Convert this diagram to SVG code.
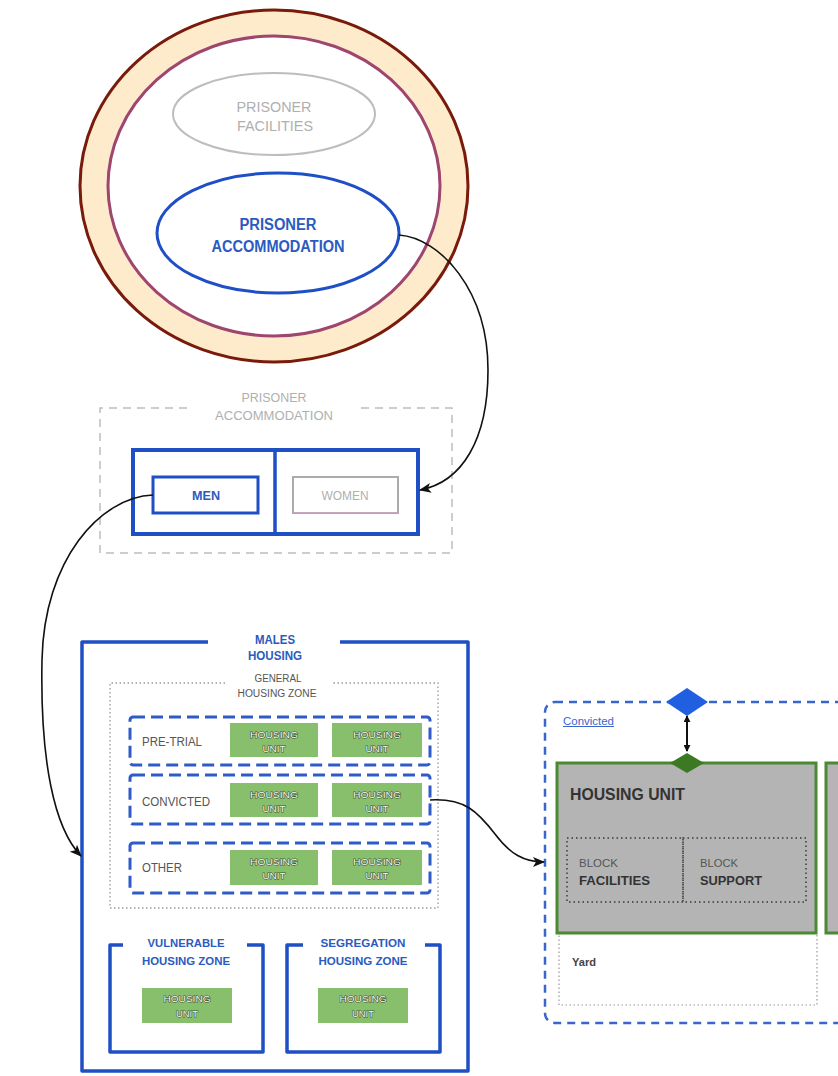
<svg xmlns="http://www.w3.org/2000/svg" width="838" height="1076" viewBox="0 0 838 1076">
  <defs>
    <marker id="arrow" viewBox="0 0 12 10" refX="11" refY="5" markerWidth="12" markerHeight="10" markerUnits="userSpaceOnUse" orient="auto">
      <path d="M0,0 L12,5 L0,10 L3,5 Z" fill="#111"/>
    </marker>
    <marker id="tip" viewBox="0 0 8 8" refX="7" refY="4" markerWidth="7" markerHeight="7" markerUnits="userSpaceOnUse" orient="auto-start-reverse">
      <path d="M0,0 L8,4 L0,8 Z" fill="#111"/>
    </marker>
    <style>
      .t { font-family: "Liberation Sans", Arial, sans-serif; }
      .blue-b { fill: #2B5BC0; font-weight: bold; }
      .grey { fill: #AFAFAF; }
      .dark { fill: #555; }
      .hu { fill: #88BF6C; }
      .hut { fill: #F7F9F2; stroke: #3F5234; stroke-width: 1.1; paint-order: stroke; font-size: 9.5px; }
      .solid-blue { fill: none; stroke: #1E4FC4; stroke-width: 3.5; stroke-linejoin: round; }
      .dash-blue { fill: none; stroke: #2F5BC8; stroke-width: 3; stroke-dasharray: 12 6; }
      .dot-grey { fill: none; stroke: #9A9A9A; stroke-width: 1.3; stroke-dasharray: 1.5 2.5; }
      .conn { fill: none; stroke: #111; stroke-width: 1.6; }
    </style>
  </defs>
  <rect width="838" height="1076" fill="#FFFFFF"/>

  <!-- Prison estate rings -->
  <g id="prison">
    <ellipse cx="274" cy="186" rx="194" ry="176" fill="#FDEBCB" stroke="#7A1A0A" stroke-width="3"/>
    <ellipse cx="274" cy="186" rx="166" ry="150" fill="#FFFFFF" stroke="#9E4670" stroke-width="3"/>
  </g>

  <g id="prisoner-facilities">
    <ellipse cx="274" cy="114" rx="101" ry="41" fill="none" stroke="#BDBDBD" stroke-width="2"/>
    <text class="t grey" x="274" y="112" font-size="15" text-anchor="middle" textLength="75" lengthAdjust="spacingAndGlyphs">PRISONER</text>
    <text class="t grey" x="275" y="131" font-size="15" text-anchor="middle" textLength="76" lengthAdjust="spacingAndGlyphs">FACILITIES</text>
  </g>

  <g id="prisoner-accommodation">
    <ellipse cx="278" cy="233" rx="121" ry="60" fill="#FFFFFF" stroke="#1F4FC6" stroke-width="3"/>
    <text class="t blue-b" x="278" y="230" font-size="16" text-anchor="middle" textLength="77" lengthAdjust="spacingAndGlyphs">PRISONER</text>
    <text class="t blue-b" x="278" y="252" font-size="16" text-anchor="middle" textLength="133" lengthAdjust="spacingAndGlyphs">ACCOMMODATION</text>
  </g>

  <!-- Accommodation split -->
  <g id="accommodation-split">
    <path d="M187,408 H100 V553 H452 V408 H357" fill="none" stroke="#BDBDBD" stroke-width="1.5" stroke-dasharray="8 6"/>
    <text class="t grey" x="274" y="402" font-size="12" text-anchor="middle" textLength="65" lengthAdjust="spacingAndGlyphs">PRISONER</text>
    <text class="t grey" x="274" y="420" font-size="12" text-anchor="middle" textLength="118" lengthAdjust="spacingAndGlyphs">ACCOMMODATION</text>
    <rect x="133" y="450" width="285" height="84" fill="#FFFFFF" stroke="#1E4FC4" stroke-width="4"/>
    <line x1="275" y1="450" x2="275" y2="534" stroke="#1E4FC4" stroke-width="3.5"/>
  </g>

  <g id="men">
    <rect x="153" y="477" width="105" height="36" fill="#FFFFFF" stroke="#1E4FC4" stroke-width="3"/>
    <text class="t blue-b" x="206" y="500" font-size="12" text-anchor="middle" textLength="28" lengthAdjust="spacingAndGlyphs">MEN</text>
  </g>

  <g id="women">
    <rect x="293" y="477" width="105" height="36" fill="#FFFFFF" stroke="#ABABAB" stroke-width="2"/>
    <line x1="294" y1="512.5" x2="397" y2="512.5" stroke="#C9A6C0" stroke-width="1"/>
    <text class="t grey" x="345" y="500" font-size="12" text-anchor="middle" textLength="47" lengthAdjust="spacingAndGlyphs">WOMEN</text>
  </g>

  <!-- Males housing -->
  <g id="males-housing">
    <path class="solid-blue" d="M208,642 H82 V1071 H468 V642 H340" stroke-width="3"/>
    <text class="t blue-b" x="275" y="644" font-size="12" text-anchor="middle" textLength="40" lengthAdjust="spacingAndGlyphs">MALES</text>
    <text class="t blue-b" x="275" y="660" font-size="12" text-anchor="middle" textLength="54" lengthAdjust="spacingAndGlyphs">HOUSING</text>
  </g>

  <g id="general-housing-zone">
    <path class="dot-grey" d="M225,683 H110 V908 H438 V683 H332"/>
    <text class="t dark" x="278" y="682" font-size="10" text-anchor="middle" textLength="47" lengthAdjust="spacingAndGlyphs">GENERAL</text>
    <text class="t dark" x="277" y="697" font-size="10" text-anchor="middle" textLength="79" lengthAdjust="spacingAndGlyphs">HOUSING ZONE</text>
  </g>

  <g id="pre-trial">
    <rect class="dash-blue" x="130" y="717" width="300" height="48" rx="3"/>
    <text class="t dark" x="142" y="746" font-size="12" textLength="60" lengthAdjust="spacingAndGlyphs">PRE-TRIAL</text>
    <rect class="hu" x="230" y="723" width="88" height="34"/>
    <text class="t hut" x="274" y="738" text-anchor="middle" textLength="48" lengthAdjust="spacingAndGlyphs">HOUSING</text>
    <text class="t hut" x="274" y="752" text-anchor="middle" textLength="23" lengthAdjust="spacingAndGlyphs">UNIT</text>
    <rect class="hu" x="332" y="723" width="90" height="34"/>
    <text class="t hut" x="377" y="738" text-anchor="middle" textLength="48" lengthAdjust="spacingAndGlyphs">HOUSING</text>
    <text class="t hut" x="377" y="752" text-anchor="middle" textLength="23" lengthAdjust="spacingAndGlyphs">UNIT</text>
  </g>

  <g id="convicted">
    <rect class="dash-blue" x="130" y="775" width="300" height="49" rx="3"/>
    <text class="t dark" x="142" y="806" font-size="12" textLength="68" lengthAdjust="spacingAndGlyphs">CONVICTED</text>
    <rect class="hu" x="230" y="783" width="88" height="34"/>
    <text class="t hut" x="274" y="798" text-anchor="middle" textLength="48" lengthAdjust="spacingAndGlyphs">HOUSING</text>
    <text class="t hut" x="274" y="812" text-anchor="middle" textLength="23" lengthAdjust="spacingAndGlyphs">UNIT</text>
    <rect class="hu" x="332" y="783" width="90" height="34"/>
    <text class="t hut" x="377" y="798" text-anchor="middle" textLength="48" lengthAdjust="spacingAndGlyphs">HOUSING</text>
    <text class="t hut" x="377" y="812" text-anchor="middle" textLength="23" lengthAdjust="spacingAndGlyphs">UNIT</text>
  </g>

  <g id="other">
    <rect class="dash-blue" x="130" y="843" width="300" height="50" rx="3"/>
    <text class="t dark" x="142" y="872" font-size="12" textLength="40" lengthAdjust="spacingAndGlyphs">OTHER</text>
    <rect class="hu" x="230" y="850" width="88" height="35"/>
    <text class="t hut" x="274" y="865" text-anchor="middle" textLength="48" lengthAdjust="spacingAndGlyphs">HOUSING</text>
    <text class="t hut" x="274" y="879" text-anchor="middle" textLength="23" lengthAdjust="spacingAndGlyphs">UNIT</text>
    <rect class="hu" x="332" y="850" width="90" height="35"/>
    <text class="t hut" x="377" y="865" text-anchor="middle" textLength="48" lengthAdjust="spacingAndGlyphs">HOUSING</text>
    <text class="t hut" x="377" y="879" text-anchor="middle" textLength="23" lengthAdjust="spacingAndGlyphs">UNIT</text>
  </g>

  <g id="vulnerable-housing-zone">
    <path class="solid-blue" d="M123,945 H110 V1052 H263 V945 H247"/>
    <text class="t blue-b" x="186" y="947" font-size="11" text-anchor="middle" textLength="77" lengthAdjust="spacingAndGlyphs">VULNERABLE</text>
    <text class="t blue-b" x="186" y="965" font-size="11" text-anchor="middle" textLength="88" lengthAdjust="spacingAndGlyphs">HOUSING ZONE</text>
    <rect class="hu" x="142" y="988" width="90" height="35"/>
    <text class="t hut" x="187" y="1002" text-anchor="middle" textLength="47" lengthAdjust="spacingAndGlyphs">HOUSING</text>
    <text class="t hut" x="187" y="1017" text-anchor="middle" textLength="22" lengthAdjust="spacingAndGlyphs">UNIT</text>
  </g>

  <g id="segregation-housing-zone">
    <path class="solid-blue" d="M303,945 H287 V1052 H440 V945 H425"/>
    <text class="t blue-b" x="363" y="947" font-size="11" text-anchor="middle" textLength="85" lengthAdjust="spacingAndGlyphs">SEGREGATION</text>
    <text class="t blue-b" x="363" y="965" font-size="11" text-anchor="middle" textLength="89" lengthAdjust="spacingAndGlyphs">HOUSING ZONE</text>
    <rect class="hu" x="318" y="988" width="90" height="35"/>
    <text class="t hut" x="363" y="1002" text-anchor="middle" textLength="47" lengthAdjust="spacingAndGlyphs">HOUSING</text>
    <text class="t hut" x="363" y="1017" text-anchor="middle" textLength="22" lengthAdjust="spacingAndGlyphs">UNIT</text>
  </g>

  <!-- Convicted housing detail -->
  <g id="convicted-detail">
    <rect x="545" y="702" width="340" height="321" rx="10" fill="#FFFFFF" stroke="#3A66CC" stroke-width="2.5" stroke-dasharray="8 6"/>
    <text class="t" x="563" y="725" font-size="10" fill="#3A66CC" text-decoration="underline" textLength="51" lengthAdjust="spacingAndGlyphs">Convicted</text>
    <path d="M666,702 L687,688 L708,702 L687,716 Z" fill="#1F5FE0"/>
  </g>

  <g id="yard">
    <rect x="559" y="933" width="258" height="72" fill="none" stroke="#9A9A9A" stroke-width="1.2" stroke-dasharray="1.5 2.5"/>
    <text class="t" x="572" y="966" font-size="10" font-weight="bold" fill="#444" textLength="24" lengthAdjust="spacingAndGlyphs">Yard</text>
  </g>

  <g id="housing-unit">
    <rect x="557" y="763" width="259" height="170" fill="#B4B4B4" stroke="#4A8A30" stroke-width="3"/>
    <path d="M670,763 L687,753 L704,763 L687,773 Z" fill="#3B7A22"/>
    <text class="t" x="570" y="800" font-size="16" font-weight="bold" fill="#333" textLength="115" lengthAdjust="spacingAndGlyphs">HOUSING UNIT</text>
  </g>

  <g id="block-facilities">
    <rect x="567" y="838" width="116" height="64" fill="none" stroke="#3A3A3A" stroke-width="1.5" stroke-dasharray="1.5 3"/>
    <text class="t" x="579" y="867" font-size="11" fill="#555" textLength="39" lengthAdjust="spacingAndGlyphs">BLOCK</text>
    <text class="t" x="579" y="885" font-size="13" font-weight="bold" fill="#333" textLength="71" lengthAdjust="spacingAndGlyphs">FACILITIES</text>
  </g>

  <g id="block-support">
    <rect x="683" y="838" width="123" height="64" fill="none" stroke="#3A3A3A" stroke-width="1.5" stroke-dasharray="1.5 3"/>
    <text class="t" x="700" y="867" font-size="11" fill="#555" textLength="38" lengthAdjust="spacingAndGlyphs">BLOCK</text>
    <text class="t" x="700" y="885" font-size="13" font-weight="bold" fill="#333" textLength="62" lengthAdjust="spacingAndGlyphs">SUPPORT</text>
  </g>

  <g id="housing-unit-2">
    <rect x="826" y="763" width="40" height="170" fill="#B8B3B6" stroke="#4A8A30" stroke-width="3"/>
  </g>

  <!-- Connectors -->
  <g id="connectors">
    <path class="conn" d="M399,235 C440,238 488,290 488,370 C488,440 462,482 420,490" marker-end="url(#arrow)"/>
    <path class="conn" d="M153,495 C100,497 44,560 42,660 C40,760 54,828 81,856" marker-end="url(#arrow)"/>
    <path class="conn" d="M430,800 C465,798 478,812 495,834 C510,854 524,862 544,862" marker-end="url(#arrow)"/>
    <line x1="687" y1="716" x2="687" y2="751" stroke="#111" stroke-width="2" marker-start="url(#tip)" marker-end="url(#tip)"/>
  </g>
</svg>
